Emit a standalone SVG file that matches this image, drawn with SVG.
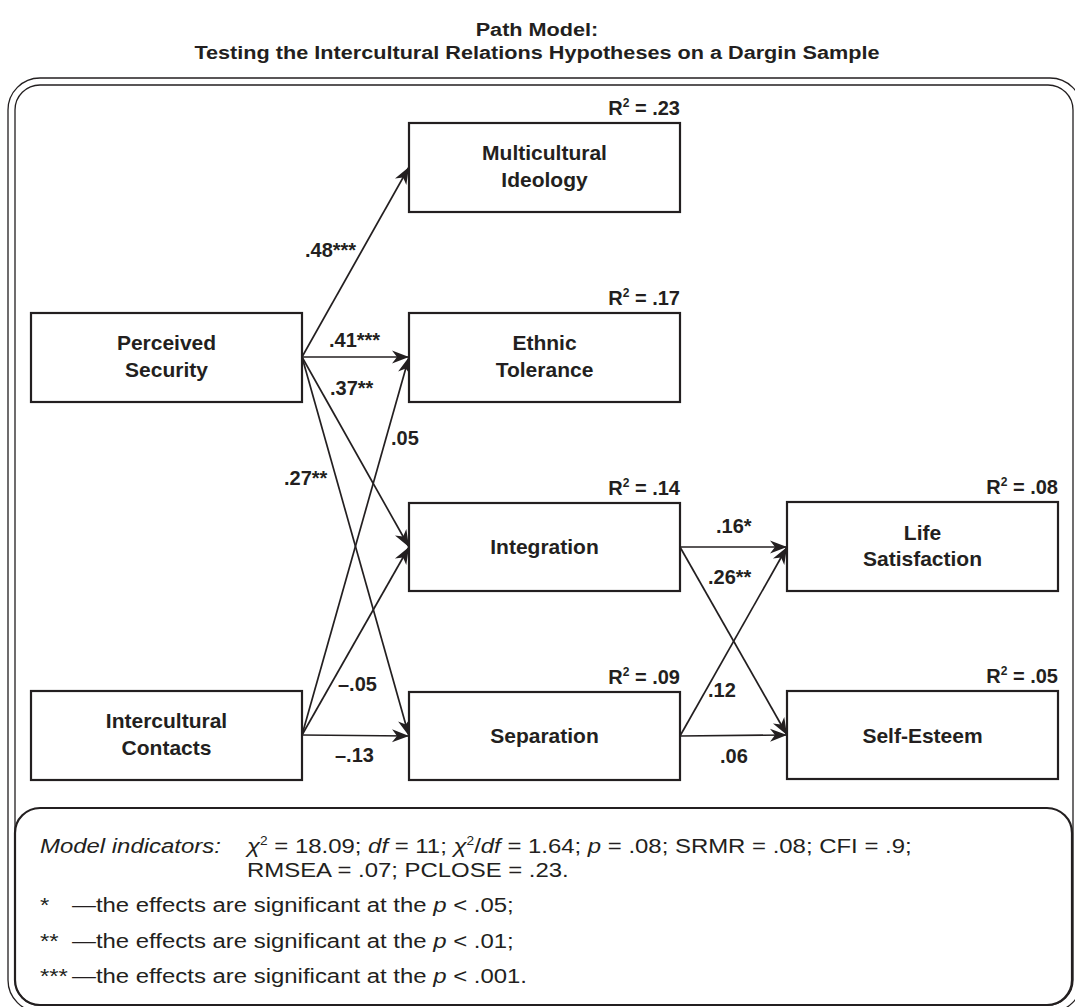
<svg xmlns="http://www.w3.org/2000/svg" width="1075" height="1007" viewBox="0 0 1075 1007">
<style>
text{font-family:"Liberation Sans",Arial,sans-serif;fill:#231f20}
.t{font-weight:bold;font-size:19px;text-anchor:middle}
.n{font-weight:bold;font-size:21px;text-anchor:middle}
.r{font-weight:bold;font-size:20px;text-anchor:end}
.e{font-weight:bold;font-size:20px}
.box{fill:#fff;stroke:#231f20;stroke-width:2.2}
.c line{stroke:#231f20;stroke-width:1.7;marker-end:url(#ah)}
.l{font-size:21px}
.i{font-style:italic}
.frame{fill:none;stroke:#231f20;stroke-width:1.3}
.leg{fill:none;stroke:#231f20;stroke-width:2.2}
</style>
<defs>
<marker id="ah" markerUnits="userSpaceOnUse" viewBox="-18 -8 19 16" refX="0" refY="0" markerWidth="19" markerHeight="16" orient="auto">
<path d="M0,0 L-17,-6.5 L-12,0 L-17,6.5 Z" fill="#231f20"/>
</marker>
</defs>
<rect width="1075" height="1007" fill="#fff"/>
<g id="title">
<text class="t" transform="translate(537 36) scale(1.14 1)">Path Model:</text>
<text class="t" transform="translate(537 59) scale(1.14 1)">Testing the Intercultural Relations Hypotheses on a Dargin Sample</text>
</g>
<g id="frame">
<rect class="frame" x="8" y="78" width="1074" height="934" rx="32"/>
<rect class="frame" x="15" y="85" width="1058" height="920" rx="25"/>
</g>
<g id="connectors" class="c">
<line x1="302" y1="357" x2="409" y2="167"/>
<line x1="302" y1="357" x2="409" y2="357"/>
<line x1="302" y1="357" x2="409" y2="547"/>
<line x1="302" y1="357" x2="409" y2="736"/>
<line x1="302" y1="735" x2="409" y2="357"/>
<line x1="302" y1="735" x2="409" y2="547"/>
<line x1="302" y1="735" x2="409" y2="736"/>
<line x1="680" y1="547" x2="787" y2="547"/>
<line x1="680" y1="547" x2="787" y2="735"/>
<line x1="680" y1="736" x2="787" y2="547"/>
<line x1="680" y1="736" x2="787" y2="735"/>
</g>
<g id="edge-labels" class="e">
<text x="305" y="257">.48***</text>
<text x="329" y="347">.41***</text>
<text x="330" y="395">.37**</text>
<text x="391" y="445">.05</text>
<text x="284" y="485">.27**</text>
<text x="338" y="691">–.05</text>
<text x="335" y="762">–.13</text>
<text x="716" y="533">.16*</text>
<text x="708" y="584">.26**</text>
<text x="708" y="697">.12</text>
<text x="720" y="763">.06</text>
</g>
<g id="node-mi">
<rect class="box" x="409" y="123" width="271" height="89"/>
<text class="n" x="544.5" y="160">Multicultural</text>
<text class="n" x="544.5" y="187">Ideology</text>
<text class="r" x="680" y="115">R<tspan font-size="12" dy="-8">2</tspan><tspan dy="8"> = .23</tspan></text>
</g>
<g id="node-et">
<rect class="box" x="409" y="313" width="271" height="89"/>
<text class="n" x="544.5" y="350">Ethnic</text>
<text class="n" x="544.5" y="377">Tolerance</text>
<text class="r" x="680" y="305">R<tspan font-size="12" dy="-8">2</tspan><tspan dy="8"> = .17</tspan></text>
</g>
<g id="node-int">
<rect class="box" x="409" y="503" width="271" height="88"/>
<text class="n" x="544.5" y="554">Integration</text>
<text class="r" x="680" y="495">R<tspan font-size="12" dy="-8">2</tspan><tspan dy="8"> = .14</tspan></text>
</g>
<g id="node-sep">
<rect class="box" x="409" y="692" width="271" height="88"/>
<text class="n" x="544.5" y="743">Separation</text>
<text class="r" x="680" y="684">R<tspan font-size="12" dy="-8">2</tspan><tspan dy="8"> = .09</tspan></text>
</g>
<g id="node-ps">
<rect class="box" x="31" y="313" width="271" height="89"/>
<text class="n" x="166.5" y="350">Perceived</text>
<text class="n" x="166.5" y="377">Security</text>
</g>
<g id="node-ic">
<rect class="box" x="31" y="691" width="271" height="89"/>
<text class="n" x="166.5" y="728">Intercultural</text>
<text class="n" x="166.5" y="755">Contacts</text>
</g>
<g id="node-ls">
<rect class="box" x="787" y="502" width="271" height="89"/>
<text class="n" x="922.5" y="540">Life</text>
<text class="n" x="922.5" y="566">Satisfaction</text>
<text class="r" x="1058" y="494">R<tspan font-size="12" dy="-8">2</tspan><tspan dy="8"> = .08</tspan></text>
</g>
<g id="node-se">
<rect class="box" x="787" y="691" width="271" height="88"/>
<text class="n" x="922.5" y="743">Self-Esteem</text>
<text class="r" x="1058" y="683">R<tspan font-size="12" dy="-8">2</tspan><tspan dy="8"> = .05</tspan></text>
</g>
<g id="legend">
<rect class="leg" x="15" y="808" width="1057" height="197" rx="25"/>
<text class="l i" transform="translate(40 853) scale(1.14 1)">Model indicators:</text>
<text class="l" transform="translate(247 853) scale(1.14 1)"><tspan class="i">χ</tspan><tspan font-size="12" dy="-8">2</tspan><tspan dy="8"> = 18.09; </tspan><tspan class="i">df</tspan> = 11; <tspan class="i">χ</tspan><tspan font-size="12" dy="-8">2</tspan><tspan dy="8">/</tspan><tspan class="i">df</tspan> = 1.64; <tspan class="i">p</tspan> = .08; SRMR = .08; CFI = .9;</text>
<text class="l" transform="translate(247 877) scale(1.14 1)">RMSEA = .07; PCLOSE = .23.</text>
<text class="l" transform="translate(40 912) scale(1.14 1)">*</text>
<text class="l" transform="translate(72 912) scale(1.14 1)">—the effects are significant at the <tspan class="i">p</tspan> &lt; .05;</text>
<text class="l" transform="translate(40 948) scale(1.14 1)">**</text>
<text class="l" transform="translate(72 948) scale(1.14 1)">—the effects are significant at the <tspan class="i">p</tspan> &lt; .01;</text>
<text class="l" transform="translate(40 983) scale(1.14 1)">***</text>
<text class="l" transform="translate(72 983) scale(1.14 1)">—the effects are significant at the <tspan class="i">p</tspan> &lt; .001.</text>
</g>
</svg>
